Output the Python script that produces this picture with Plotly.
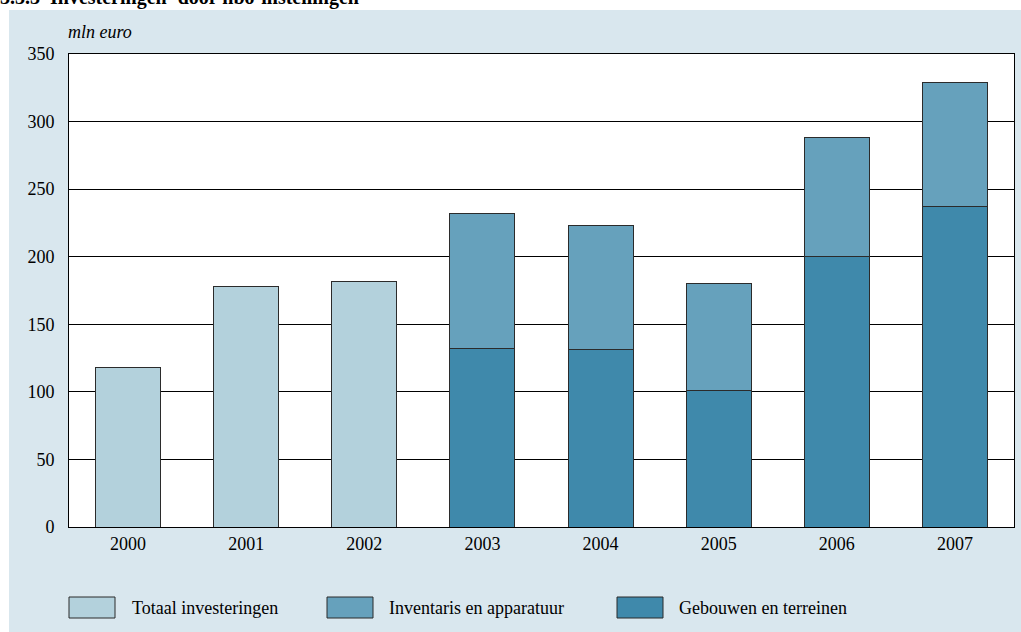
import plotly.graph_objects as go

years = ["2000", "2001", "2002", "2003", "2004", "2005", "2006", "2007"]
totaal = [118, 178, 182, None, None, None, None, None]
gebouwen = [None, None, None, 132, 131, 101, 200, 237]
inventaris = [None, None, None, 100, 92, 79, 88, 92]

c_totaal = "#b3d1dc"
c_inv = "#66a1bc"
c_geb = "#3f89ab"
panel = "#d9e7ee"
edge = "#2b2b2b"
font_family = "Liberation Serif"

W, H = 1021, 632
L, R, T, B = 69, 7, 54, 105
pw, ph = W - L - R, H - T - B

def px(x):
    return (x - L) / pw

def py(y):
    return (H - B - y) / ph

fig = go.Figure()
fig.add_trace(go.Bar(x=years, y=totaal, name="Totaal investeringen",
                     marker=dict(color=c_totaal, line=dict(color=edge, width=1))))
fig.add_trace(go.Bar(x=years, y=gebouwen, name="Gebouwen en terreinen",
                     marker=dict(color=c_geb, line=dict(color=edge, width=1))))
fig.add_trace(go.Bar(x=years, y=inventaris, name="Inventaris en apparatuur",
                     marker=dict(color=c_inv, line=dict(color=edge, width=1))))

shapes = [
    dict(type="rect", xref="paper", yref="paper", x0=px(0), x1=px(W), y0=py(10), y1=py(0),
         fillcolor="white", line=dict(width=0), layer="below"),
    dict(type="rect", xref="paper", yref="paper", x0=px(0), x1=px(9), y0=py(H), y1=py(0),
         fillcolor="white", line=dict(width=0), layer="below"),
]
annotations = [
    dict(text="<i>mln euro</i>", xref="paper", yref="paper", x=px(66), y=py(32),
         xanchor="left", yanchor="middle", showarrow=False,
         font=dict(family=font_family, size=18, color="black")),
    dict(text="<b>3.3.3  Investeringen¹ door hbo-instellingen</b>", xref="paper", yref="paper",
         x=px(-2), y=py(-2), xanchor="left", yanchor="middle", showarrow=False,
         font=dict(family=font_family, size=20, color="black")),
]
legend_items = [("Totaal investeringen", c_totaal, 69, 130),
                ("Inventaris en apparatuur", c_inv, 327, 387),
                ("Gebouwen en terreinen", c_geb, 617, 677)]
for name, col, sx, tx in legend_items:
    shapes.append(dict(type="rect", xref="paper", yref="paper",
                       x0=px(sx), x1=px(sx + 46), y0=py(618), y1=py(597),
                       fillcolor=col, line=dict(color=edge, width=1)))
    annotations.append(dict(text=name, xref="paper", yref="paper", x=px(tx), y=py(608),
                            xanchor="left", yanchor="middle", showarrow=False,
                            font=dict(family=font_family, size=18, color="black")))

fig.update_layout(
    barmode="stack",
    bargap=0.45,
    width=W, height=H,
    margin=dict(l=L, r=R, t=T, b=B),
    paper_bgcolor=panel,
    plot_bgcolor="white",
    showlegend=False,
    font=dict(family=font_family, size=18, color="black"),
    shapes=shapes,
    annotations=annotations,
    xaxis=dict(showline=True, linecolor="black", linewidth=1, mirror=True,
               showgrid=False, ticks="", tickfont=dict(size=18)),
    yaxis=dict(range=[0, 350], dtick=50, showline=True, linecolor="black", linewidth=1,
               mirror=True, showgrid=True, gridcolor="black", gridwidth=1,
               ticks="", ticklabelstandoff=10, tickfont=dict(size=18), zeroline=False),
)

fig.write_html("out.html", config={"displayModeBar": False},
               post_script="document.body.style.margin='0';document.body.style.overflow='hidden';")
